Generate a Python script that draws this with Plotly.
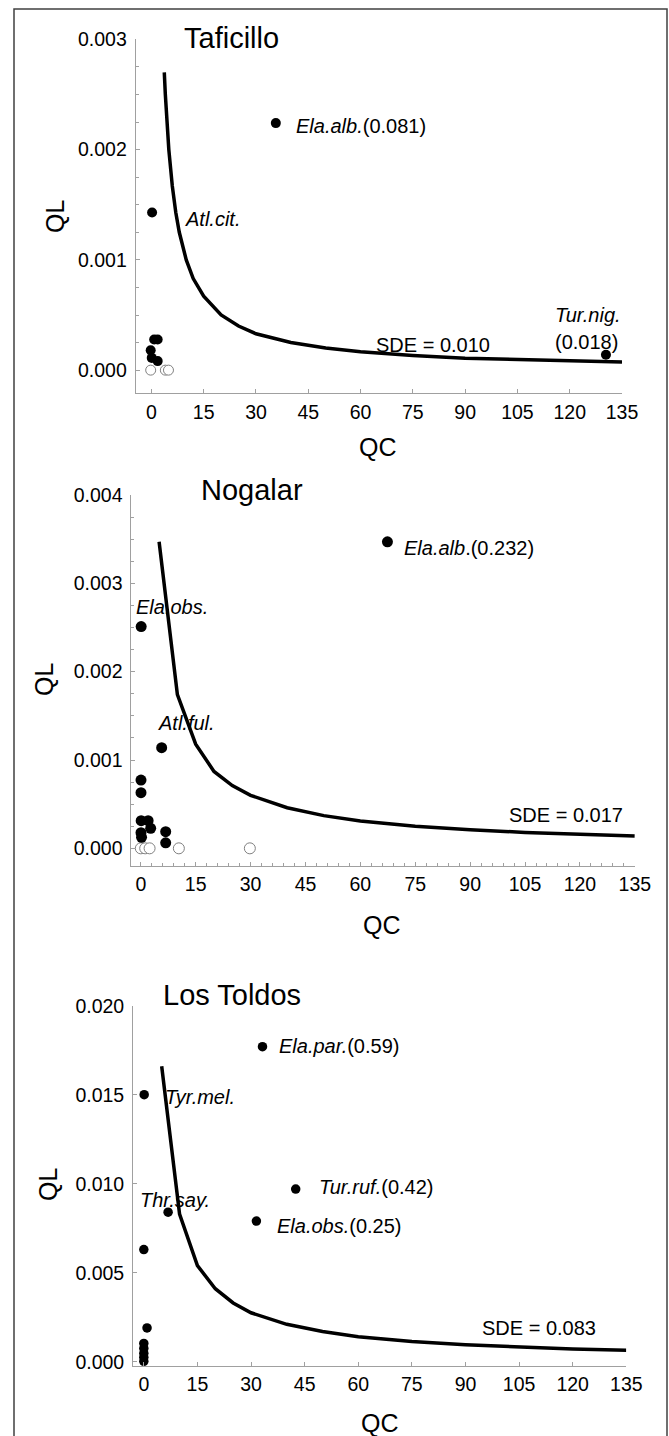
import plotly.graph_objects as go

W, H = 669, 1436

# ---------------- data ----------------
# Taficillo
taf_qc = [35.7, 0.2, 130.4, 0.8, 1.8, -0.2, 0.1, 1.8]
taf_ql = [0.00224, 0.00143, 0.00014, 0.000278, 0.000278, 0.000181, 0.000111, 0.000082]
taf_open_qc = [-0.2, 4.0, 4.9]
taf_open_ql = [0.0, 0.0, 0.0]
taf_curve_qc = [3.7, 4, 5, 6, 7, 8, 10, 12, 15, 20, 25, 30, 40, 50, 60, 75, 90, 105, 120, 135]
taf_curve_ql = [0.0027, 0.0025, 0.0020, 0.00167, 0.00143, 0.00125, 0.0010, 0.00083, 0.00067,
                0.0005, 0.0004, 0.00033, 0.00025, 0.0002, 0.000167, 0.000133, 0.000108,
                0.000094, 0.000082, 0.000074]

# Nogalar
nog_qc = [67.4, 0.1, 5.7, 0.05, 0.05, 0.1, 2.0, 2.7, 0.05, 0.2, 6.8, 6.8]
nog_ql = [0.00347, 0.00251, 0.00114, 0.000773, 0.00063, 0.000313, 0.000313, 0.000226,
          0.000177, 0.000125, 0.000188, 0.000063]
nog_open_qc = [0.0, 1.2, 2.4, 10.4, 29.8]
nog_open_ql = [0.0, 0.0, 0.0, 0.0, 0.0]
nog_curve_qc = [5, 10, 15, 20, 25, 30, 40, 50, 60, 75, 90, 105, 120, 135]
nog_curve_ql = [0.00347, 0.00174, 0.00118, 0.00087, 0.00071, 0.0006, 0.00046, 0.00037,
                0.00031, 0.00025, 0.00021, 0.00018, 0.00016, 0.00014]

# Los Toldos
lt_qc = [33.2, 0.1, 42.5, 31.5, 6.8, 0.0, 0.9, 0.0, 0.0, 0.0, 0.0, 0.0]
lt_ql = [0.0177, 0.0150, 0.0097, 0.0079, 0.0084, 0.0063, 0.0019, 0.00103, 0.00075,
         0.00047, 0.00025, 0.00002]
lt_curve_qc = [5, 10, 15, 20, 25, 30, 40, 50, 60, 75, 90, 105, 120, 135]
lt_curve_ql = [0.0166, 0.0083, 0.0054, 0.0041, 0.0033, 0.00275, 0.0021, 0.0017, 0.0014,
               0.00113, 0.00095, 0.00082, 0.00072, 0.00065]

x_ticks = [0, 15, 30, 45, 60, 75, 90, 105, 120, 135]

FONT = "Liberation Sans, Arial, sans-serif"
AXC = "#a0a0a0"

fig = go.Figure()

def add_panel(idx, qc, ql, oqc, oql, cqc, cql, msize):
    xa = "x" if idx == 1 else f"x{idx}"
    ya = "y" if idx == 1 else f"y{idx}"
    fig.add_trace(go.Scatter(x=cqc, y=cql, mode="lines", xaxis=xa, yaxis=ya,
                             line=dict(color="black", width=3.5), showlegend=False,
                             cliponaxis=False, hoverinfo="skip"))
    if oqc:
        fig.add_trace(go.Scatter(x=oqc, y=oql, mode="markers", xaxis=xa, yaxis=ya,
                                 marker=dict(size=msize, color="white",
                                             line=dict(color="#808080", width=1)),
                                 showlegend=False, cliponaxis=False))
    fig.add_trace(go.Scatter(x=qc, y=ql, mode="markers", xaxis=xa, yaxis=ya,
                             marker=dict(size=msize, color="black"),
                             showlegend=False, cliponaxis=False))

add_panel(1, taf_qc, taf_ql, taf_open_qc, taf_open_ql, taf_curve_qc, taf_curve_ql, 10)
add_panel(2, nog_qc, nog_ql, nog_open_qc, nog_open_ql, nog_curve_qc, nog_curve_ql, 11)
add_panel(3, lt_qc, lt_ql, [], [], lt_curve_qc, lt_curve_ql, 9.5)

def px_dom_x(a, b):
    return [a / W, b / W]

def px_dom_y(top, bottom):
    return [1 - bottom / H, 1 - top / H]

def xaxis_cfg(dom, rng, anchor, minor=None):
    d = dict(domain=dom, range=rng, anchor=anchor, showline=True, linecolor=AXC,
             linewidth=1, ticks="inside", ticklen=4, tickcolor=AXC, tickvals=x_ticks,
             showgrid=False, zeroline=False, automargin=False,
             tickfont=dict(family=FONT, size=19.5, color="black"),
             ticklabelstandoff=1)
    if minor:
        d["minor"] = dict(dtick=minor, ticks="inside", ticklen=3, tickcolor=AXC, showgrid=False)
    return d

def yaxis_cfg(dom, rng, anchor, dtick, minor=None):
    d = dict(domain=dom, range=rng, anchor=anchor, showline=True, linecolor=AXC,
             linewidth=1, ticks="inside", ticklen=4, tickcolor=AXC, dtick=dtick, tick0=0,
             tickformat=".3f", showgrid=False, zeroline=False, automargin=False,
             tickfont=dict(family=FONT, size=19.5, color="black"),
             ticklabelstandoff=4)
    if minor:
        d["minor"] = dict(dtick=minor, ticks="inside", ticklen=3, tickcolor=AXC, showgrid=False)
    return d

fig.update_layout(
    width=W, height=H, autosize=False,
    margin=dict(l=0, r=0, t=0, b=0, pad=0, autoexpand=False),
    paper_bgcolor="white", plot_bgcolor="white",
    font=dict(family=FONT, color="black"),
    xaxis=xaxis_cfg(px_dom_x(135.7, 622), [-4.5, 135], "y"),
    yaxis=yaxis_cfg(px_dom_y(39.3, 393.3), [-0.00021, 0.003], "x", 0.001, 0.00025),
    xaxis2=xaxis_cfg(px_dom_x(131.4, 634.8), [-2.57, 135], "y2", 3),
    yaxis2=yaxis_cfg(px_dom_y(495, 866), [-0.0002, 0.004], "x2", 0.001, 0.00025),
    xaxis3=xaxis_cfg(px_dom_x(133.1, 626.3), [-3.0, 135], "y3"),
    yaxis3=yaxis_cfg(px_dom_y(1005.7, 1366), [-0.00024, 0.020], "x3", 0.005),
)

ann = []
def data_label(xr, yr, x, y, text, size=20, anchor="left"):
    ann.append(dict(xref=xr, yref=yr, x=x, y=y, text=text, showarrow=False,
                    xanchor=anchor, yanchor="middle",
                    font=dict(family=FONT, size=size, color="black")))

# Panel 1
data_label("x", "y", 41.0, 0.00221, "<i>Ela.alb.</i>(0.081)")
data_label("x", "y", 9.2, 0.001375, "<i>Atl.cit.</i>")
data_label("x", "y", 115.2, 0.000499, "<i>Tur.nig.</i>")
data_label("x", "y", 115.1, 0.000257, "(0.018)")
data_label("x", "y", 80.8, 0.000227, "SDE = 0.010", anchor="center")
# Panel 2
data_label("x2", "y2", 71.5, 0.003398, "<i>Ela.alb</i>.(0.232)")
data_label("x2", "y2", -1.8, 0.002736, "<i>Ela.obs.</i>")
data_label("x2", "y2", 4.1, 0.001416, "<i>Atl.ful.</i>")
data_label("x2", "y2", 116.2, 0.000377, "SDE = 0.017", anchor="center")
# Panel 3
data_label("x3", "y3", 37.3, 0.01774, "<i>Ela.par.</i>(0.59)")
data_label("x3", "y3", 5.3, 0.01489, "<i>Tyr.mel.</i>")
data_label("x3", "y3", 48.5, 0.00983, "<i>Tur.ruf.</i>(0.42)")
data_label("x3", "y3", -1.6, 0.00908, "<i>Thr.say.</i>")
data_label("x3", "y3", 36.8, 0.00762, "<i>Ela.obs.</i>(0.25)")
data_label("x3", "y3", 110.6, 0.00191, "SDE = 0.083", anchor="center")

# titles and axis titles (paper coordinates)
def ptext(px, py, text, size, angle=0, anchor="center"):
    ann.append(dict(xref="paper", yref="paper", x=px / W, y=1 - py / H, text=text,
                    showarrow=False, xanchor=anchor, yanchor="middle", textangle=angle,
                    font=dict(family=FONT, size=size, color="black")))

ptext(182, 38.3, "Taficillo", 29, anchor="left")
ptext(199, 490, "Nogalar", 29, anchor="left")
ptext(161, 995, "Los Toldos", 29, anchor="left")

ptext(54.4, 216.5, "QL", 25, -90)
ptext(377.6, 447, "QC", 25)
ptext(44, 680, "QL", 25, -90)
ptext(382, 925, "QC", 25)
ptext(48, 1185, "QL", 25, -90)
ptext(380, 1423, "QC", 25)

fig.update_layout(annotations=ann)

# outer frame
fig.add_shape(type="rect", xref="paper", yref="paper",
              x0=14 / W, x1=667 / W, y0=-0.01, y1=1 - 9 / H,
              line=dict(color="#404040", width=1.5), fillcolor="rgba(0,0,0,0)")

fig.write_html(
    "out.html",
    config={"displayModeBar": False, "staticPlot": True},
    post_script="document.body.style.margin='0';document.body.style.overflow='hidden';"
                "document.documentElement.style.overflow='hidden';",
)
